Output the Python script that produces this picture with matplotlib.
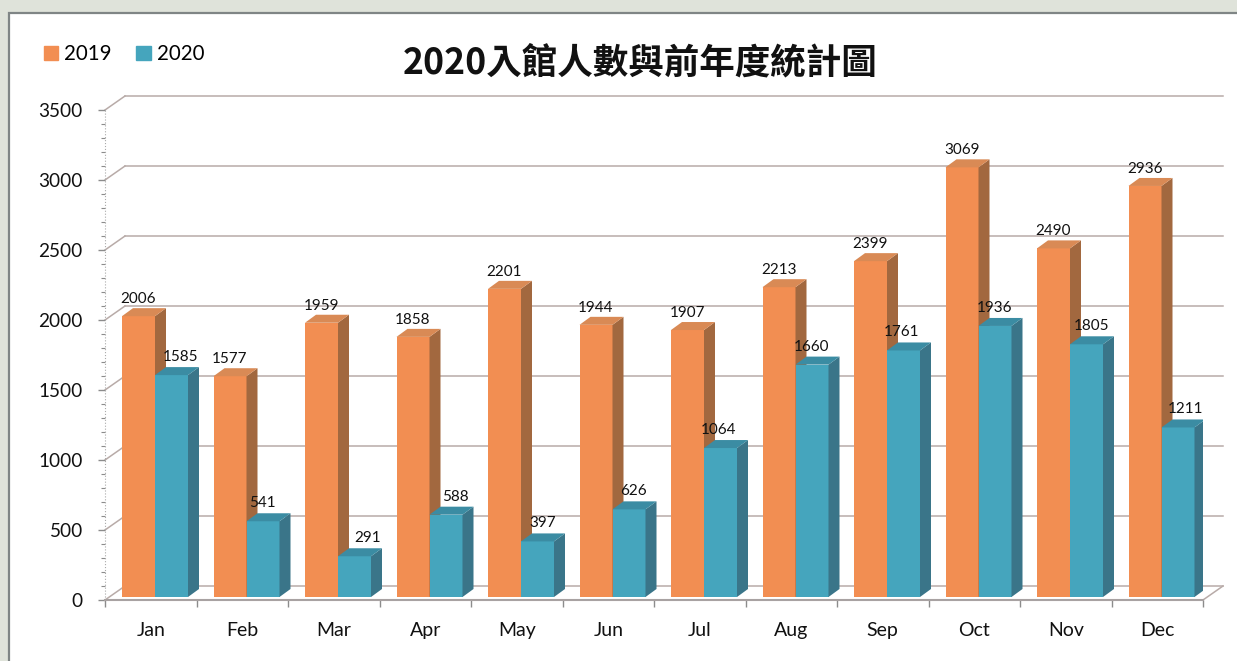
import matplotlib
matplotlib.use('Agg')
import numpy as np
import matplotlib.pyplot as plt
from matplotlib.patches import Patch, Rectangle

plt.rcParams['font.family'] = ['Lato', 'Noto Sans CJK TC', 'DejaVu Sans']

# data
months = ['Jan', 'Feb', 'Mar', 'Apr', 'May', 'Jun', 'Jul', 'Aug', 'Sep', 'Oct', 'Nov', 'Dec']
v2019 = [2006, 1577, 1959, 1858, 2201, 1944, 1907, 2213, 2399, 3069, 2490, 2936]
v2020 = [1585, 541, 291, 588, 397, 626, 1064, 1660, 1761, 1936, 1805, 1211]
y_major = [0, 500, 1000, 1500, 2000, 2500, 3000, 3500]
title = '2020入館人數與前年度統計圖'

# style
W, H = 1237, 661
ORANGE = ('#F28E52', '#A2683F', '#D98A55')
BLUE = ('#45A5BD', '#3A7589', '#3B8CA3')
GRID = '#B8ABA8'
AXIS = '#8C8C8C'
# sideways shift of the 2020 labels, px
nudge_2020 = [9, -1, 13, 9, 5, 4, -2, 0, -2, 0, 5, 8]

fig = plt.figure(figsize=(W / 100, H / 100), dpi=100, facecolor='#DFE3DA')
fig.patches.append(Rectangle((9 / W, -0.1), 1.2, 1.1 - 13 / H, transform=fig.transFigure,
                             facecolor='white', edgecolor='#7F8585', linewidth=1.6, zorder=-1))

ax = fig.add_axes([105 / W, (H - 600) / H, 1098 / W, 490 / H])
ax.set_xlim(0, 12)
ax.set_ylim(0, 3500)
ax.patch.set_visible(False)
px_x = 12 / 1098
px_y = 3500 / 490

# back wall and floor
depth_x, depth_y = 20 * px_x, 14 * px_y
for v in y_major:
    ax.plot([0, depth_x], [v, v + depth_y], color=GRID, lw=1.1, zorder=1, clip_on=False)
    ax.plot([depth_x, 12 + depth_x], [v + depth_y] * 2, color=GRID, lw=1.1, zorder=1, clip_on=False)
ax.plot([12, 12 + depth_x], [0, depth_y], color=GRID, lw=1.1, zorder=1, clip_on=False)

# bars
x = np.arange(12)
lift = 3 * px_y
bar_w = 33 * px_x
side_x, side_y = 11 * px_x, 8 * px_y


def draw_bars(left, values, colors):
    ax.bar(left, values, width=bar_w, bottom=lift, align='edge', color=colors[0], zorder=3)
    for x0, v in zip(left, values):
        x1 = x0 + bar_w
        top = v + lift
        ax.fill([x1, x1 + side_x, x1 + side_x, x1],
                [lift, lift + side_y, top + side_y, top], color=colors[1], lw=0, zorder=3)
        ax.fill([x0, x0 + side_x, x1 + side_x, x1],
                [top, top + side_y, top + side_y, top], color=colors[2], lw=0, zorder=3)


left19 = x + 17 * px_x
left20 = left19 + bar_w
draw_bars(left19, v2019, ORANGE)
draw_bars(left20, v2020, BLUE)

# data labels
for x0, v in zip(left19, v2019):
    ax.annotate(str(v), (x0 + bar_w / 2, v + lift), xytext=(0, 17 * 0.72), textcoords='offset points',
                ha='center', va='center', fontsize=11, color='#111111', zorder=5)
for x0, v, n in zip(left20, v2020, nudge_2020):
    ax.annotate(str(v), (x0 + bar_w / 2, v + lift), xytext=(n * 0.72, 18 * 0.72), textcoords='offset points',
                ha='center', va='center', fontsize=11, color='#111111', zorder=5)

# axes
for s in ['top', 'right', 'left']:
    ax.spines[s].set_visible(False)
ax.spines['bottom'].set_color('#A8A2A2')
ax.spines['bottom'].set_linewidth(1.5)
ax.plot([0, 0], [0, 3500], color='#AAAAAA', lw=0.8, ls=':', zorder=2, clip_on=False)

ax.set_yticks(y_major)
ax.set_yticks(np.arange(0, 3501, 100), minor=True)
ax.tick_params(axis='y', which='major', length=5, width=1, color=AXIS, labelsize=13.7, pad=11, labelcolor='#111111')
ax.tick_params(axis='y', which='minor', length=3, width=0.8, color=AXIS)

ax.set_xticks(np.arange(13))
ax.set_xticklabels([])
ax.set_xticks(x + 0.5, minor=True)
ax.set_xticklabels(months, minor=True)
ax.tick_params(axis='x', which='major', length=5, width=1, color=AXIS)
ax.tick_params(axis='x', which='minor', length=0, labelsize=14, pad=15.5, labelcolor='#111111')

fig.text(640 / W, 1 - 63 / H, title, ha='center', va='center', fontsize=25.6, fontweight='bold',
         family=['Noto Sans CJK TC', 'DejaVu Sans'], color='#111111')

fig.legend(handles=[Patch(color=ORANGE[0], label='2019'), Patch(color=BLUE[0], label='2020')],
           loc='center left', bbox_to_anchor=(25 / W, 1 - 54 / H), ncol=2, frameon=False,
           fontsize=14.8, handlelength=0.7, handleheight=0.7, handletextpad=0.3, columnspacing=1.2)

fig.savefig('out.png', dpi=100, facecolor=fig.get_facecolor())
